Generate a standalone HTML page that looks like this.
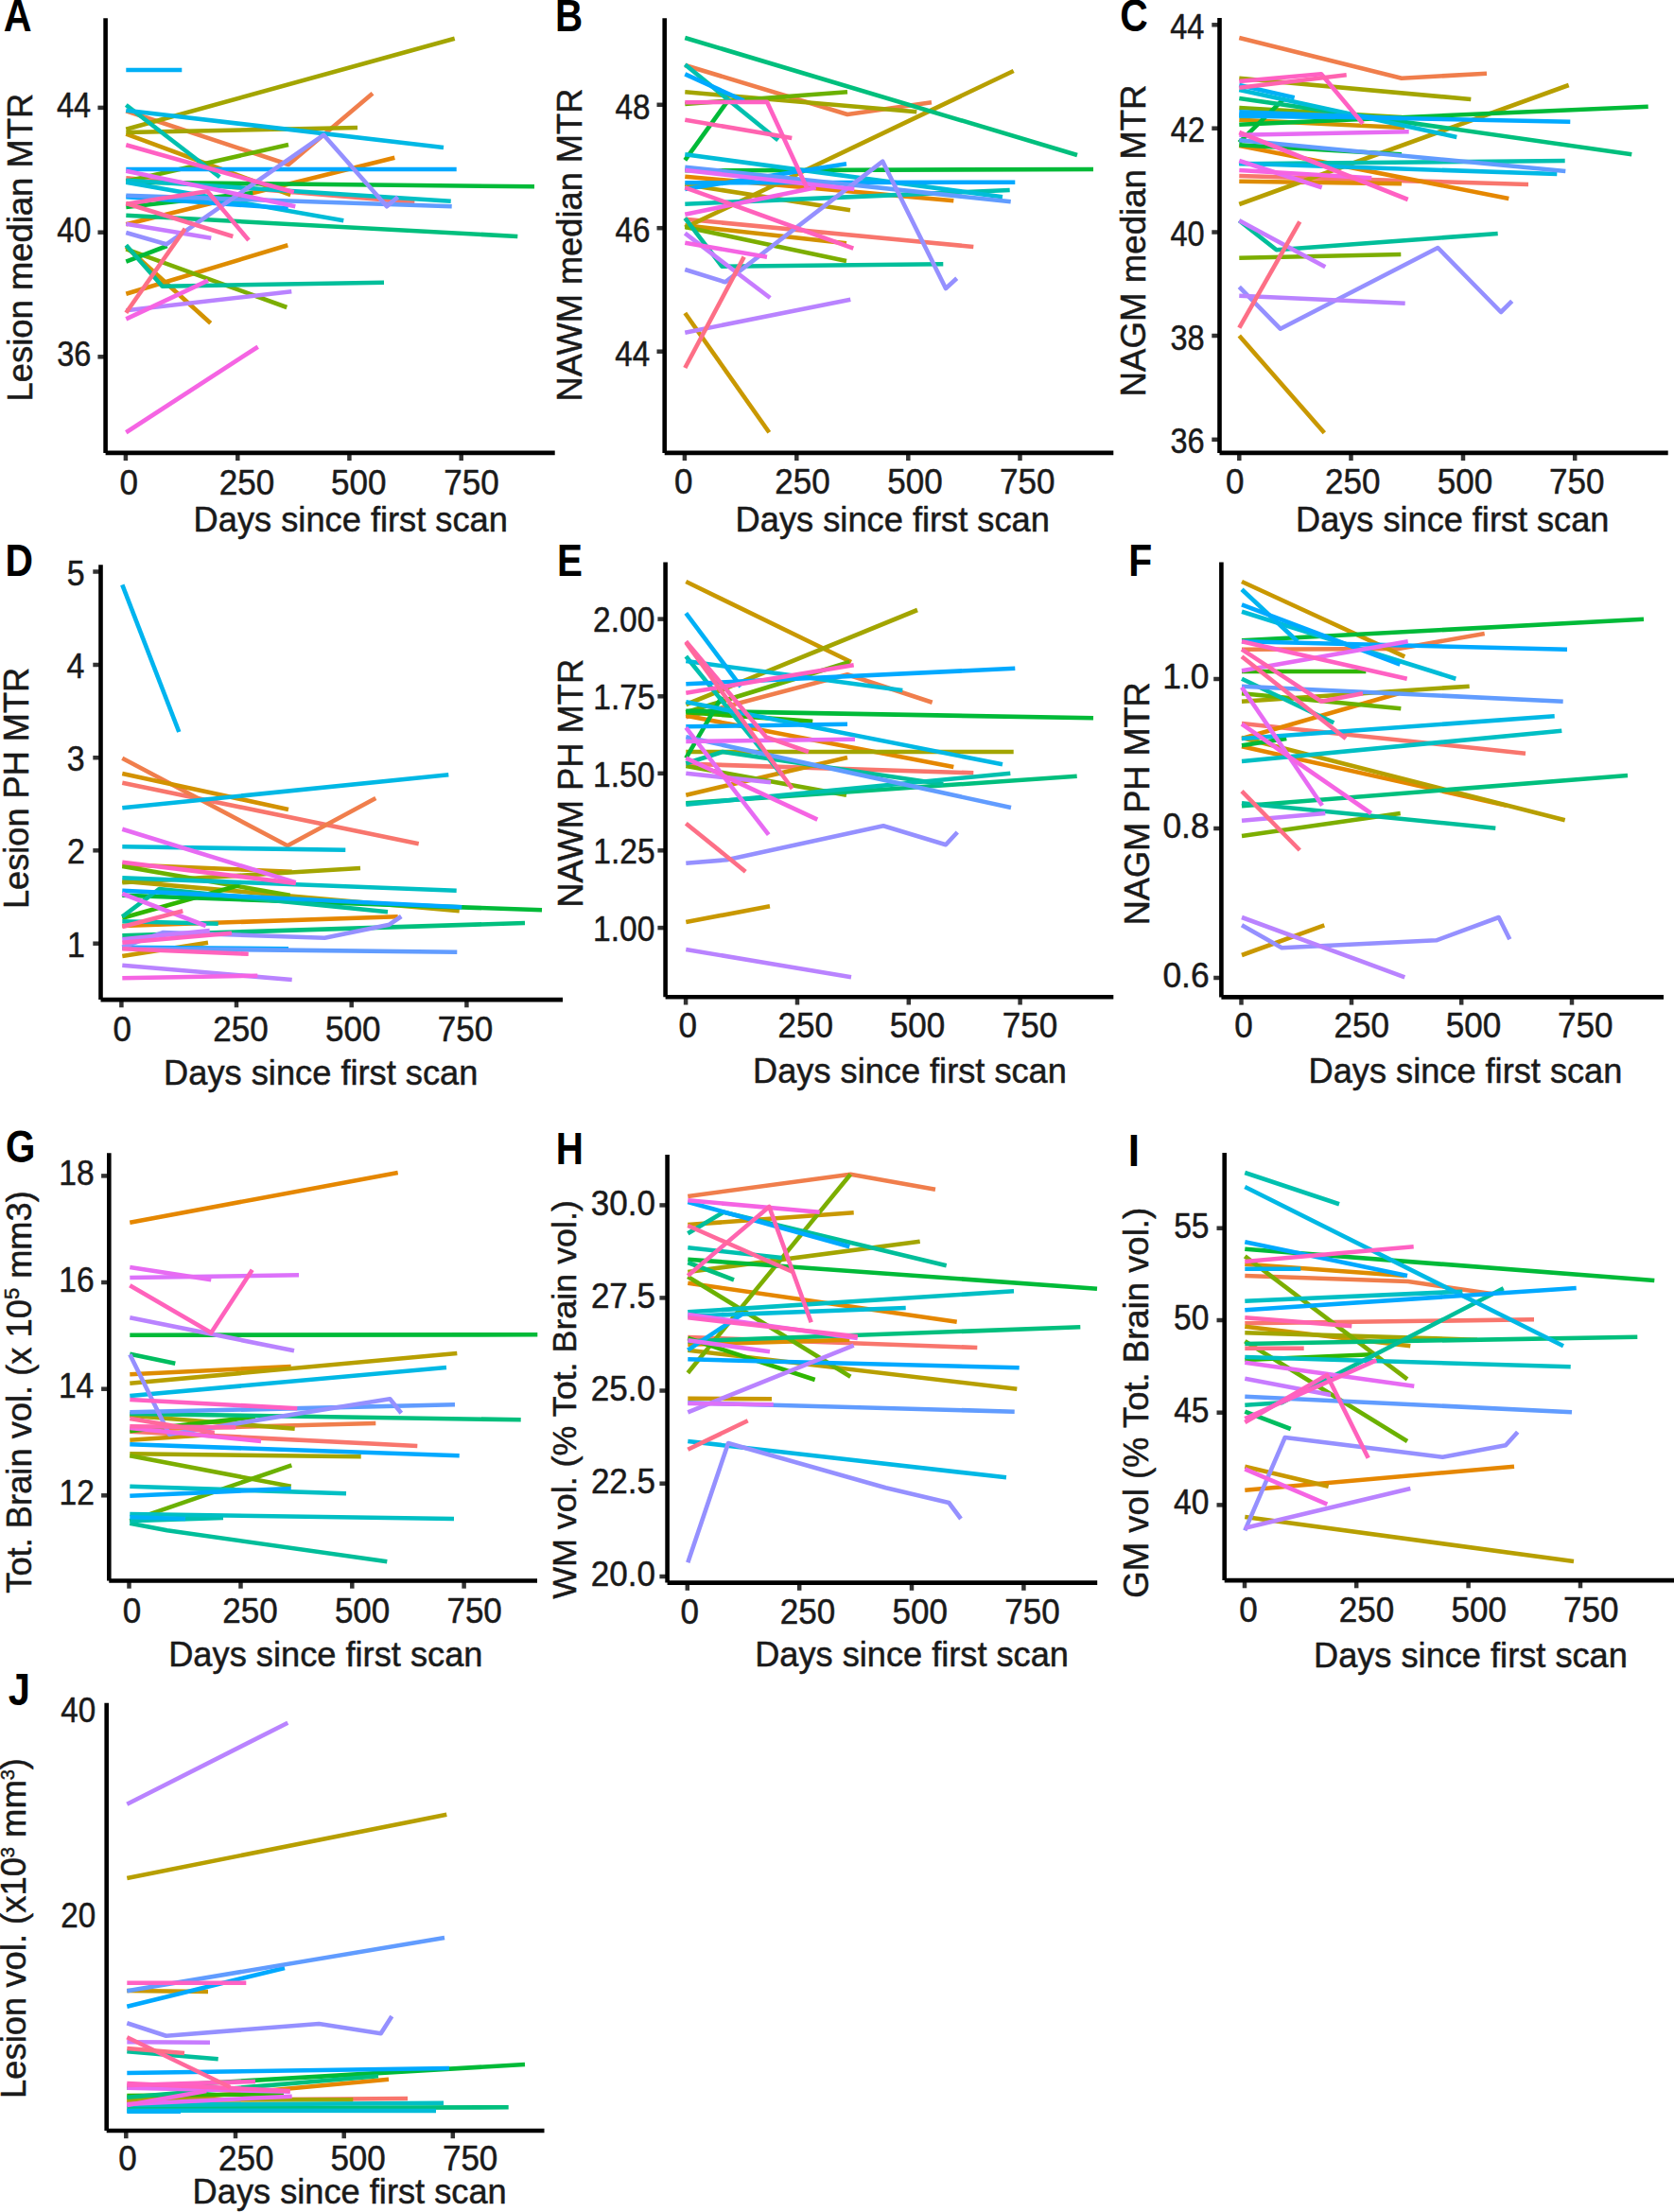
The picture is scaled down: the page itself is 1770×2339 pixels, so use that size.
<!DOCTYPE html>
<html><head><meta charset="utf-8"><title>Figure</title>
<style>html,body{margin:0;padding:0;background:#fff;overflow:hidden}svg{display:block}</style></head>
<body>
<svg width="1770" height="2339" viewBox="0 0 1770 2339">
<rect width="1770" height="2339" fill="#fff"/>
<g id="panelA">
<g fill="none" stroke-width="4.6" stroke-linejoin="round" stroke-linecap="butt">
<polyline points="133.3,188.3 438.3,214.0" stroke="#F8766D"/>
<polyline points="133.3,117.3 305.0,174.0 394.0,98.7" stroke="#F07E4C"/>
<polyline points="133.3,237.3 417.3,166.7" stroke="#E58700"/>
<polyline points="133.3,310.7 304.3,259.3" stroke="#DE8C00"/>
<polyline points="133.3,261.0 222.7,341.7" stroke="#D39200"/>
<polyline points="133.3,141.7 307.3,206.0" stroke="#C99800"/>
<polyline points="133.3,136.7 480.7,40.7" stroke="#A3A500"/>
<polyline points="133.3,140.0 378.0,135.0" stroke="#A3A500"/>
<polyline points="133.3,263.3 303.3,325.0" stroke="#7CAE00"/>
<polyline points="133.3,191.7 305.0,153.0" stroke="#6BB100"/>
<polyline points="133.3,192.7 565.0,197.3" stroke="#00BA38"/>
<polyline points="133.3,219.0 267.3,204.0" stroke="#00BA38"/>
<polyline points="133.3,276.7 176.7,260.0" stroke="#00BA38"/>
<polyline points="133.3,227.7 547.3,250.0" stroke="#00BF7D"/>
<polyline points="133.3,259.3 171.7,302.7 406.0,298.7" stroke="#00BE9A"/>
<polyline points="133.3,111.0 232.3,187.3" stroke="#00C0AF"/>
<polyline points="133.3,190.7 476.7,212.7" stroke="#00BFC4"/>
<polyline points="133.3,192.7 363.3,233.3" stroke="#00BCD8"/>
<polyline points="133.3,116.7 469.0,156.0" stroke="#00B8E5"/>
<polyline points="133.3,74.0 192.3,74.0" stroke="#00B0F6"/>
<polyline points="133.3,179.0 482.7,179.0" stroke="#00A9FF"/>
<polyline points="133.3,208.3 304.7,220.3" stroke="#00A9FF"/>
<polyline points="133.3,206.7 477.7,218.3" stroke="#619CFF"/>
<polyline points="133.3,246.0 176.0,258.3 342.3,142.7 409.0,218.3 420.7,208.3" stroke="#9590FF"/>
<polyline points="133.3,328.3 308.3,308.3" stroke="#B983FF"/>
<polyline points="133.3,236.7 223.3,251.7" stroke="#C77CFF"/>
<polyline points="133.3,180.7 312.3,218.3" stroke="#E76BF3"/>
<polyline points="133.3,337.3 220.0,296.7" stroke="#F564E3"/>
<polyline points="133.3,457.3 272.7,366.7" stroke="#F564E3"/>
<polyline points="133.3,153.3 310.7,203.3" stroke="#FF61C3"/>
<polyline points="133.3,215.7 219.3,202.3 263.0,254.0" stroke="#FF64B0"/>
<polyline points="133.3,215.0 246.3,250.0" stroke="#FF699C"/>
<polyline points="133.3,330.7 195.7,241.7" stroke="#FD6F86"/>
</g>
<g stroke="#333" stroke-width="4.5" fill="none">
<line x1="132.9" y1="478.9" x2="132.9" y2="487.1"/>
<line x1="251.3" y1="478.9" x2="251.3" y2="487.1"/>
<line x1="369.4" y1="478.9" x2="369.4" y2="487.1"/>
<line x1="487.7" y1="478.9" x2="487.7" y2="487.1"/>
<line x1="103.4" y1="113.9" x2="111.6" y2="113.9"/>
<line x1="103.4" y1="245.7" x2="111.6" y2="245.7"/>
<line x1="103.4" y1="377.3" x2="111.6" y2="377.3"/>
</g>
<path d="M111.6,19.3V478.9M111.6,478.9H586.7" fill="none" stroke="#000" stroke-width="4.6" stroke-linecap="butt"/>
<g font-family="Liberation Sans, sans-serif" fill="#1a1a1a" stroke="#1a1a1a" stroke-width="0.5" stroke-linejoin="round">
<text transform="translate(126.47,522.7) scale(0.96,1)" font-size="36.5">0</text>
<text transform="translate(231.71,522.7) scale(0.96,1)" font-size="36.5">250</text>
<text transform="translate(350.08,522.7) scale(0.96,1)" font-size="36.5">500</text>
<text transform="translate(469.31,522.7) scale(0.96,1)" font-size="36.5">750</text>
<text transform="translate(59.97,124) scale(0.89,1)" font-size="36.5">44</text>
<text transform="translate(60.14,255.8) scale(0.89,1)" font-size="36.5">40</text>
<text transform="translate(60.3,387.4) scale(0.89,1)" font-size="36.5">36</text>
<text transform="translate(204.6,562)" font-size="36.24">Days since first scan</text>
<text transform="translate(33.8,421.6) rotate(-90)" x="-2.91" font-size="36.42">Lesion median MTR</text>
<text transform="translate(3.76,32.9) scale(0.87,1)" font-size="47.5" font-weight="bold" stroke="none" fill="#000">A</text>
</g>
</g>
<g id="panelB">
<g fill="none" stroke-width="4.6" stroke-linejoin="round" stroke-linecap="butt">
<polyline points="724.3,231.7 1029.3,261.0" stroke="#F8766D"/>
<polyline points="724.3,69.0 896.0,121.0 985.0,108.3" stroke="#F07E4C"/>
<polyline points="724.3,186.7 1008.3,212.3" stroke="#E58700"/>
<polyline points="724.3,238.3 895.0,257.3" stroke="#D39200"/>
<polyline points="724.3,331.0 813.3,457.3" stroke="#C99800"/>
<polyline points="724.3,240.7 1071.7,75.0" stroke="#B79F00"/>
<polyline points="724.3,195.0 899.0,222.3" stroke="#B79F00"/>
<polyline points="724.3,97.3 969.3,118.3" stroke="#A3A500"/>
<polyline points="724.3,240.0 895.0,276.0" stroke="#7CAE00"/>
<polyline points="724.3,110.0 896.0,97.3" stroke="#6BB100"/>
<polyline points="724.3,169.3 768.3,108.3" stroke="#00BA38"/>
<polyline points="724.3,180.3 1156.0,179.0" stroke="#00BA38"/>
<polyline points="724.3,40.0 1139.0,164.0" stroke="#00BF7D"/>
<polyline points="724.3,230.7 763.3,281.7 997.3,279.3" stroke="#00BE9A"/>
<polyline points="724.3,68.3 822.7,148.3" stroke="#00C0AF"/>
<polyline points="724.3,215.7 1067.7,201.0" stroke="#00C0AF"/>
<polyline points="724.3,163.3 1060.0,208.3" stroke="#00BCD8"/>
<polyline points="724.3,78.3 786.7,106.7" stroke="#00A9FF"/>
<polyline points="724.3,200.0 895.0,173.3" stroke="#00A9FF"/>
<polyline points="724.3,193.3 1073.3,192.7" stroke="#00A9FF"/>
<polyline points="724.3,176.7 1068.7,213.3" stroke="#619CFF"/>
<polyline points="724.3,285.0 766.7,298.3 933.3,170.7 1000.0,305.0 1011.7,294.3" stroke="#9590FF"/>
<polyline points="724.3,351.7 899.3,316.7" stroke="#B983FF"/>
<polyline points="724.3,246.7 814.3,315.0" stroke="#C77CFF"/>
<polyline points="724.3,180.0 903.3,200.0" stroke="#E76BF3"/>
<polyline points="724.3,226.7 862.7,198.3" stroke="#F564E3"/>
<polyline points="724.3,256.7 811.0,271.7" stroke="#F564E3"/>
<polyline points="724.3,198.3 902.3,262.7" stroke="#FF62BC"/>
<polyline points="724.3,108.3 811.0,107.7 853.3,199.0" stroke="#FF61C3"/>
<polyline points="724.3,126.7 837.3,146.0" stroke="#FF64B0"/>
<polyline points="724.3,389.0 786.7,271.7" stroke="#FD6F86"/>
</g>
<g stroke="#333" stroke-width="4.5" fill="none">
<line x1="723.9" y1="478.9" x2="723.9" y2="487.1"/>
<line x1="842.3" y1="478.9" x2="842.3" y2="487.1"/>
<line x1="960.3" y1="478.9" x2="960.3" y2="487.1"/>
<line x1="1078.5" y1="478.9" x2="1078.5" y2="487.1"/>
<line x1="694.5" y1="110.8" x2="702.7" y2="110.8"/>
<line x1="694.5" y1="241.2" x2="702.7" y2="241.2"/>
<line x1="694.5" y1="371.7" x2="702.7" y2="371.7"/>
</g>
<path d="M702.7,19.3V478.9M702.7,478.9H1177.3" fill="none" stroke="#000" stroke-width="4.6" stroke-linecap="butt"/>
<g font-family="Liberation Sans, sans-serif" fill="#1a1a1a" stroke="#1a1a1a" stroke-width="0.5" stroke-linejoin="round">
<text transform="translate(713.07,522.3) scale(0.96,1)" font-size="36.5">0</text>
<text transform="translate(819.31,522.3) scale(0.96,1)" font-size="36.5">250</text>
<text transform="translate(938.18,522.3) scale(0.96,1)" font-size="36.5">500</text>
<text transform="translate(1057.01,522.3) scale(0.96,1)" font-size="36.5">750</text>
<text transform="translate(650.54,125.7) scale(0.91,1)" font-size="36.5">48</text>
<text transform="translate(650.54,256.1) scale(0.91,1)" font-size="36.5">46</text>
<text transform="translate(650.21,386.6) scale(0.91,1)" font-size="36.5">44</text>
<text transform="translate(777.6,562.2)" font-size="36.24">Days since first scan</text>
<text transform="translate(615.3,421.6) rotate(-90)" x="-2.9" font-size="36.24">NAWM median MTR</text>
<text transform="translate(586.97,32.9) scale(0.85,1)" font-size="47.5" font-weight="bold" stroke="none" fill="#000">B</text>
</g>
</g>
<g id="panelC">
<g fill="none" stroke-width="4.6" stroke-linejoin="round" stroke-linecap="butt">
<polyline points="1310.3,186.0 1616.0,195.0" stroke="#F8766D"/>
<polyline points="1310.3,40.0 1482.0,82.7 1572.0,77.7" stroke="#F07E4C"/>
<polyline points="1310.3,154.0 1595.3,210.0" stroke="#E58700"/>
<polyline points="1310.3,191.7 1482.0,194.3" stroke="#DE8C00"/>
<polyline points="1310.3,126.7 1485.3,135.0" stroke="#D39200"/>
<polyline points="1310.3,355.0 1400.3,457.7" stroke="#C99800"/>
<polyline points="1310.3,216.0 1658.7,90.0" stroke="#B79F00"/>
<polyline points="1310.3,82.7 1555.3,105.0" stroke="#A3A500"/>
<polyline points="1310.3,114.0 1482.0,124.0" stroke="#7CAE00"/>
<polyline points="1310.3,272.7 1481.3,269.0" stroke="#7CAE00"/>
<polyline points="1310.3,131.7 1742.7,112.7" stroke="#00BA38"/>
<polyline points="1310.3,150.7 1358.7,103.3" stroke="#00BA38"/>
<polyline points="1310.3,153.3 1482.0,163.3" stroke="#00BA38"/>
<polyline points="1310.3,104.0 1725.3,163.3" stroke="#00BF7D"/>
<polyline points="1310.3,233.3 1349.7,264.3 1583.7,247.0" stroke="#00BE9A"/>
<polyline points="1310.3,173.3 1654.7,170.0" stroke="#00C0AF"/>
<polyline points="1310.3,95.0 1540.3,145.0" stroke="#00BCD8"/>
<polyline points="1310.3,172.7 1646.3,184.0" stroke="#00B8E5"/>
<polyline points="1310.3,90.0 1368.7,103.3" stroke="#00B0F6"/>
<polyline points="1310.3,122.7 1412.0,124.0" stroke="#00B0F6"/>
<polyline points="1310.3,118.3 1482.0,125.0" stroke="#00A9FF"/>
<polyline points="1310.3,121.7 1660.3,128.7" stroke="#00A9FF"/>
<polyline points="1310.3,148.3 1655.3,181.0" stroke="#619CFF"/>
<polyline points="1310.3,303.3 1353.7,347.7 1520.3,262.0 1587.0,330.0 1598.7,318.3" stroke="#9590FF"/>
<polyline points="1310.3,312.7 1485.7,320.7" stroke="#B983FF"/>
<polyline points="1310.3,233.3 1401.3,282.3" stroke="#C77CFF"/>
<polyline points="1310.3,142.7 1489.7,139.3" stroke="#E76BF3"/>
<polyline points="1310.3,170.0 1397.7,198.3" stroke="#E76BF3"/>
<polyline points="1310.3,180.0 1450.3,188.3" stroke="#F564E3"/>
<polyline points="1310.3,140.0 1488.7,211.0" stroke="#FF61C3"/>
<polyline points="1310.3,86.0 1397.0,78.3 1441.0,130.7" stroke="#FF61C3"/>
<polyline points="1310.3,92.7 1423.7,79.3" stroke="#FF64B0"/>
<polyline points="1310.3,346.7 1374.3,234.3" stroke="#FD6F86"/>
</g>
<g stroke="#333" stroke-width="4.5" fill="none">
<line x1="1310.3" y1="478.9" x2="1310.3" y2="487.1"/>
<line x1="1428.5" y1="478.9" x2="1428.5" y2="487.1"/>
<line x1="1547" y1="478.9" x2="1547" y2="487.1"/>
<line x1="1665.2" y1="478.9" x2="1665.2" y2="487.1"/>
<line x1="1281.3" y1="26.3" x2="1289.5" y2="26.3"/>
<line x1="1281.3" y1="135.7" x2="1289.5" y2="135.7"/>
<line x1="1281.3" y1="245.5" x2="1289.5" y2="245.5"/>
<line x1="1281.3" y1="355" x2="1289.5" y2="355"/>
<line x1="1281.3" y1="464.8" x2="1289.5" y2="464.8"/>
</g>
<path d="M1289.5,19.1V478.9M1289.5,478.9H1763.7" fill="none" stroke="#000" stroke-width="4.6" stroke-linecap="butt"/>
<g font-family="Liberation Sans, sans-serif" fill="#1a1a1a" stroke="#1a1a1a" stroke-width="0.5" stroke-linejoin="round">
<text transform="translate(1295.97,522.3) scale(0.96,1)" font-size="36.5">0</text>
<text transform="translate(1401.01,522.3) scale(0.96,1)" font-size="36.5">250</text>
<text transform="translate(1519.68,522.3) scale(0.96,1)" font-size="36.5">500</text>
<text transform="translate(1638.01,522.3) scale(0.96,1)" font-size="36.5">750</text>
<text transform="translate(1237.22,40.9) scale(0.89,1)" font-size="36.5">44</text>
<text transform="translate(1237.87,150.3) scale(0.89,1)" font-size="36.5">42</text>
<text transform="translate(1237.38,260.1) scale(0.89,1)" font-size="36.5">40</text>
<text transform="translate(1237.54,369.6) scale(0.89,1)" font-size="36.5">38</text>
<text transform="translate(1237.54,479.4) scale(0.89,1)" font-size="36.5">36</text>
<text transform="translate(1370.11,562.2)" font-size="36.14">Days since first scan</text>
<text transform="translate(1210.9,416.5) rotate(-90)" x="-2.93" font-size="36.66">NAGM median MTR</text>
<text transform="translate(1184.37,32.5) scale(0.86,1)" font-size="47.5" font-weight="bold" stroke="none" fill="#000">C</text>
</g>
</g>
<g id="panelD">
<g fill="none" stroke-width="4.6" stroke-linejoin="round" stroke-linecap="butt">
<polyline points="129.3,827.7 442.7,892.3" stroke="#F8766D"/>
<polyline points="129.3,801.7 304.0,894.3 397.3,844.0" stroke="#F07E4C"/>
<polyline points="129.3,979.0 420.7,969.3" stroke="#E58700"/>
<polyline points="129.3,818.0 305.0,856.0" stroke="#D39200"/>
<polyline points="129.3,914.3 308.7,921.7" stroke="#C99800"/>
<polyline points="129.3,1011.0 220.0,996.7" stroke="#C99800"/>
<polyline points="129.3,931.7 485.7,963.3" stroke="#B79F00"/>
<polyline points="129.3,933.3 381.0,918.0" stroke="#A3A500"/>
<polyline points="129.3,916.0 306.7,946.7" stroke="#6BB100"/>
<polyline points="129.3,970.7 253.3,936.0" stroke="#2FB600"/>
<polyline points="129.3,946.7 573.0,962.3" stroke="#00BA38"/>
<polyline points="129.3,989.3 555.0,976.0" stroke="#00BF7D"/>
<polyline points="129.3,969.3 168.3,940.0 410.0,964.3" stroke="#00BE9A"/>
<polyline points="129.3,974.3 230.7,976.7" stroke="#00C0AF"/>
<polyline points="129.3,928.3 482.7,941.7" stroke="#00BFC4"/>
<polyline points="129.3,895.3 365.3,898.7" stroke="#00BCD8"/>
<polyline points="129.3,854.3 474.3,819.3" stroke="#00B8E5"/>
<polyline points="129.3,618.3 189.3,774.0" stroke="#00B4EF"/>
<polyline points="129.3,941.7 488.3,959.3" stroke="#00A9FF"/>
<polyline points="129.3,1001.7 305.0,1003.3" stroke="#00A9FF"/>
<polyline points="129.3,1002.7 483.3,1006.7" stroke="#619CFF"/>
<polyline points="129.3,1001.7 172.7,986.0 343.3,991.7 411.7,977.7 424.3,969.0" stroke="#9590FF"/>
<polyline points="129.3,1020.7 308.7,1036.0" stroke="#B983FF"/>
<polyline points="129.3,993.3 221.7,984.0" stroke="#C77CFF"/>
<polyline points="129.3,876.7 312.7,933.3" stroke="#E76BF3"/>
<polyline points="129.3,945.0 217.7,979.0" stroke="#E76BF3"/>
<polyline points="129.3,1034.3 272.3,1031.7" stroke="#F564E3"/>
<polyline points="129.3,1003.3 262.7,1008.7" stroke="#FF62BC"/>
<polyline points="129.3,911.7 312.7,934.0" stroke="#FF61C3"/>
<polyline points="129.3,996.7 245.0,986.7" stroke="#FF61C3"/>
<polyline points="129.3,980.0 193.3,963.3" stroke="#FF699C"/>
</g>
<g stroke="#333" stroke-width="4.5" fill="none">
<line x1="128.4" y1="1057.1" x2="128.4" y2="1065.3"/>
<line x1="250" y1="1057.1" x2="250" y2="1065.3"/>
<line x1="371.7" y1="1057.1" x2="371.7" y2="1065.3"/>
<line x1="493.4" y1="1057.1" x2="493.4" y2="1065.3"/>
<line x1="98.3" y1="604.5" x2="106.5" y2="604.5"/>
<line x1="98.3" y1="703" x2="106.5" y2="703"/>
<line x1="98.3" y1="801.2" x2="106.5" y2="801.2"/>
<line x1="98.3" y1="899.3" x2="106.5" y2="899.3"/>
<line x1="98.3" y1="997.7" x2="106.5" y2="997.7"/>
</g>
<path d="M106.5,597.3V1057.1M106.5,1057.1H595" fill="none" stroke="#000" stroke-width="4.6" stroke-linecap="butt"/>
<g font-family="Liberation Sans, sans-serif" fill="#1a1a1a" stroke="#1a1a1a" stroke-width="0.5" stroke-linejoin="round">
<text transform="translate(119.47,1100.8) scale(0.96,1)" font-size="36.5">0</text>
<text transform="translate(225.21,1100.8) scale(0.96,1)" font-size="36.5">250</text>
<text transform="translate(343.98,1100.8) scale(0.96,1)" font-size="36.5">500</text>
<text transform="translate(462.71,1100.8) scale(0.96,1)" font-size="36.5">750</text>
<text transform="translate(70.72,618.6) scale(0.93,1)" font-size="36.5">5</text>
<text transform="translate(70.38,717.1) scale(0.93,1)" font-size="36.5">4</text>
<text transform="translate(70.72,815.3) scale(0.93,1)" font-size="36.5">3</text>
<text transform="translate(71.06,913.4) scale(0.93,1)" font-size="36.5">2</text>
<text transform="translate(70.89,1011.8) scale(0.93,1)" font-size="36.5">1</text>
<text transform="translate(173.1,1146.5)" font-size="36.24">Days since first scan</text>
<text transform="translate(30.3,958.1) rotate(-90)" x="-2.89" font-size="36.15">Lesion PH MTR</text>
<text transform="translate(5.45,608.9) scale(0.86,1)" font-size="47.5" font-weight="bold" stroke="none" fill="#000">D</text>
</g>
</g>
<g id="panelE">
<g fill="none" stroke-width="4.6" stroke-linejoin="round" stroke-linecap="butt">
<polyline points="725.3,807.7 1029.3,817.3" stroke="#F8766D"/>
<polyline points="725.3,758.3 896.0,713.3 985.7,742.7" stroke="#F07E4C"/>
<polyline points="725.3,756.7 1008.3,811.0" stroke="#E58700"/>
<polyline points="725.3,840.7 896.0,801.0" stroke="#D39200"/>
<polyline points="725.3,615.0 900.0,700.0" stroke="#C99800"/>
<polyline points="725.3,975.0 814.0,958.3" stroke="#C99800"/>
<polyline points="725.3,745.0 970.0,645.0" stroke="#A3A500"/>
<polyline points="725.3,795.0 1071.7,795.0" stroke="#A3A500"/>
<polyline points="725.3,810.0 895.0,840.7" stroke="#7CAE00"/>
<polyline points="725.3,753.3 898.3,700.0" stroke="#6BB100"/>
<polyline points="725.3,753.3 859.3,762.7" stroke="#2FB600"/>
<polyline points="725.3,751.7 1156.0,759.3" stroke="#00BA38"/>
<polyline points="725.3,801.7 763.3,736.7" stroke="#00BA38"/>
<polyline points="725.3,849.3 1138.7,820.7" stroke="#00BF7D"/>
<polyline points="725.3,807.3 764.0,795.0 997.3,829.3" stroke="#00BE9A"/>
<polyline points="725.3,694.0 826.7,819.3" stroke="#00C0AF"/>
<polyline points="725.3,850.7 1068.3,817.7" stroke="#00C0AF"/>
<polyline points="725.3,699.0 954.3,730.0" stroke="#00BCD8"/>
<polyline points="725.3,742.3 1060.0,808.3" stroke="#00B8E5"/>
<polyline points="725.3,648.3 783.3,726.0" stroke="#00B0F6"/>
<polyline points="725.3,723.3 1073.3,706.7" stroke="#00A9FF"/>
<polyline points="725.3,768.3 896.0,765.7" stroke="#00A9FF"/>
<polyline points="725.3,779.3 1069.0,854.0" stroke="#619CFF"/>
<polyline points="725.3,912.7 768.3,909.3 934.0,873.3 1000.0,893.3 1012.3,880.0" stroke="#9590FF"/>
<polyline points="725.3,1004.0 900.0,1033.3" stroke="#B983FF"/>
<polyline points="725.3,817.7 815.0,827.3" stroke="#C77CFF"/>
<polyline points="725.3,784.0 904.0,781.7" stroke="#E76BF3"/>
<polyline points="725.3,769.3 812.7,882.7" stroke="#E76BF3"/>
<polyline points="725.3,801.7 864.3,866.7" stroke="#F564E3"/>
<polyline points="725.3,732.7 902.7,703.3" stroke="#FF61C3"/>
<polyline points="725.3,678.3 810.0,779.3 855.0,795.0" stroke="#FF64B0"/>
<polyline points="725.3,679.3 837.7,834.0" stroke="#FF699C"/>
<polyline points="725.3,870.7 788.3,921.7" stroke="#FD6F86"/>
</g>
<g stroke="#333" stroke-width="4.5" fill="none">
<line x1="725.1" y1="1054.3" x2="725.1" y2="1062.5"/>
<line x1="843" y1="1054.3" x2="843" y2="1062.5"/>
<line x1="960.8" y1="1054.3" x2="960.8" y2="1062.5"/>
<line x1="1078.6" y1="1054.3" x2="1078.6" y2="1062.5"/>
<line x1="695.4" y1="654.6" x2="703.6" y2="654.6"/>
<line x1="695.4" y1="736.3" x2="703.6" y2="736.3"/>
<line x1="695.4" y1="817.8" x2="703.6" y2="817.8"/>
<line x1="695.4" y1="899.3" x2="703.6" y2="899.3"/>
<line x1="695.4" y1="981.1" x2="703.6" y2="981.1"/>
</g>
<path d="M703.6,594.5V1054.3M703.6,1054.3H1177.3" fill="none" stroke="#000" stroke-width="4.6" stroke-linecap="butt"/>
<g font-family="Liberation Sans, sans-serif" fill="#1a1a1a" stroke="#1a1a1a" stroke-width="0.5" stroke-linejoin="round">
<text transform="translate(717.47,1096.6) scale(0.96,1)" font-size="36.5">0</text>
<text transform="translate(822.51,1096.6) scale(0.96,1)" font-size="36.5">250</text>
<text transform="translate(940.68,1096.6) scale(0.96,1)" font-size="36.5">500</text>
<text transform="translate(1059.71,1096.6) scale(0.96,1)" font-size="36.5">750</text>
<text transform="translate(627.05,668.4) scale(0.92,1)" font-size="36.5">2.00</text>
<text transform="translate(627.22,750.1) scale(0.92,1)" font-size="36.5">1.75</text>
<text transform="translate(627.05,831.6) scale(0.92,1)" font-size="36.5">1.50</text>
<text transform="translate(627.22,913.1) scale(0.92,1)" font-size="36.5">1.25</text>
<text transform="translate(627.05,994.9) scale(0.92,1)" font-size="36.5">1.00</text>
<text transform="translate(796.11,1145)" font-size="36.18">Days since first scan</text>
<text transform="translate(616.3,956.8) rotate(-90)" x="-2.91" font-size="36.33">NAWM PH MTR</text>
<text transform="translate(589.09,608.8) scale(0.85,1)" font-size="47.5" font-weight="bold" stroke="none" fill="#000">E</text>
</g>
</g>
<g id="panelF">
<g fill="none" stroke-width="4.6" stroke-linejoin="round" stroke-linecap="butt">
<polyline points="1313.0,765.0 1613.0,796.7" stroke="#F8766D"/>
<polyline points="1313.0,686.7 1478.7,686.0 1569.7,670.0" stroke="#F07E4C"/>
<polyline points="1313.0,781.0 1478.7,733.3" stroke="#E58700"/>
<polyline points="1313.0,789.3 1593.0,851.7" stroke="#E58700"/>
<polyline points="1313.0,615.0 1485.3,694.3" stroke="#C99800"/>
<polyline points="1313.0,1010.0 1400.3,978.3" stroke="#C99800"/>
<polyline points="1313.0,780.0 1654.7,867.3" stroke="#B79F00"/>
<polyline points="1313.0,741.7 1553.7,725.7" stroke="#A3A500"/>
<polyline points="1313.0,884.0 1480.7,860.0" stroke="#7CAE00"/>
<polyline points="1313.0,733.3 1481.3,749.3" stroke="#6BB100"/>
<polyline points="1313.0,710.0 1444.3,710.0" stroke="#2FB600"/>
<polyline points="1313.0,677.3 1738.0,654.7" stroke="#00BA38"/>
<polyline points="1313.0,788.3 1360.3,781.0" stroke="#00BA38"/>
<polyline points="1313.0,852.3 1721.0,820.0" stroke="#00BF7D"/>
<polyline points="1313.0,849.3 1581.3,875.7" stroke="#00BE9A"/>
<polyline points="1313.0,717.7 1410.3,764.3" stroke="#00C0AF"/>
<polyline points="1313.0,805.0 1651.3,772.7" stroke="#00BFC4"/>
<polyline points="1313.0,646.7 1539.3,717.7" stroke="#00BCD8"/>
<polyline points="1313.0,781.0 1643.7,757.3" stroke="#00B8E5"/>
<polyline points="1313.0,623.3 1372.0,678.3" stroke="#00B4EF"/>
<polyline points="1313.0,639.3 1480.3,702.7" stroke="#00A9FF"/>
<polyline points="1313.0,678.3 1657.0,686.7" stroke="#00A9FF"/>
<polyline points="1313.0,725.7 1652.7,741.7" stroke="#619CFF"/>
<polyline points="1313.0,978.3 1355.3,1002.3 1518.7,994.3 1584.7,970.0 1596.3,993.3" stroke="#9590FF"/>
<polyline points="1313.0,970.0 1485.3,1033.3" stroke="#B983FF"/>
<polyline points="1313.0,867.7 1401.3,860.0" stroke="#C77CFF"/>
<polyline points="1313.0,709.3 1488.7,678.3" stroke="#E76BF3"/>
<polyline points="1313.0,726.7 1398.0,851.7" stroke="#E76BF3"/>
<polyline points="1313.0,765.7 1449.7,860.0" stroke="#F564E3"/>
<polyline points="1313.0,678.3 1487.7,717.7" stroke="#FF61C3"/>
<polyline points="1313.0,686.7 1397.0,741.7 1441.0,733.3" stroke="#FF64B0"/>
<polyline points="1313.0,694.3 1423.0,781.0" stroke="#FF699C"/>
<polyline points="1313.0,836.7 1374.3,899.0" stroke="#FD6F86"/>
</g>
<g stroke="#333" stroke-width="4.5" fill="none">
<line x1="1312.5" y1="1054.4" x2="1312.5" y2="1062.6"/>
<line x1="1429" y1="1054.4" x2="1429" y2="1062.6"/>
<line x1="1545.2" y1="1054.4" x2="1545.2" y2="1062.6"/>
<line x1="1662" y1="1054.4" x2="1662" y2="1062.6"/>
<line x1="1283.2" y1="718" x2="1291.4" y2="718"/>
<line x1="1283.2" y1="876" x2="1291.4" y2="876"/>
<line x1="1283.2" y1="1034" x2="1291.4" y2="1034"/>
</g>
<path d="M1291.4,594.5V1054.4M1291.4,1054.4H1759" fill="none" stroke="#000" stroke-width="4.6" stroke-linecap="butt"/>
<g font-family="Liberation Sans, sans-serif" fill="#1a1a1a" stroke="#1a1a1a" stroke-width="0.5" stroke-linejoin="round">
<text transform="translate(1305.27,1096.6) scale(0.96,1)" font-size="36.5">0</text>
<text transform="translate(1410.51,1096.6) scale(0.96,1)" font-size="36.5">250</text>
<text transform="translate(1528.78,1096.6) scale(0.96,1)" font-size="36.5">500</text>
<text transform="translate(1647.01,1096.6) scale(0.96,1)" font-size="36.5">750</text>
<text transform="translate(1229.23,727.6) scale(0.97,1)" font-size="36.5">1.0</text>
<text transform="translate(1229.4,885.6) scale(0.97,1)" font-size="36.5">0.8</text>
<text transform="translate(1229.4,1043.6) scale(0.97,1)" font-size="36.5">0.6</text>
<text transform="translate(1383.61,1145)" font-size="36.18">Days since first scan</text>
<text transform="translate(1215.1,975.4) rotate(-90)" x="-2.89" font-size="36.15">NAGM PH MTR</text>
<text transform="translate(1193.34,608.8) scale(0.86,1)" font-size="47.5" font-weight="bold" stroke="none" fill="#000">F</text>
</g>
</g>
<g id="panelG">
<g fill="none" stroke-width="4.6" stroke-linejoin="round" stroke-linecap="butt">
<polyline points="137.3,1513.7 441.3,1529.0" stroke="#F8766D"/>
<polyline points="137.3,1511.7 397.3,1505.0" stroke="#F07E4C"/>
<polyline points="137.3,1292.7 420.7,1240.0" stroke="#E58700"/>
<polyline points="137.3,1453.3 307.7,1445.0" stroke="#DE8C00"/>
<polyline points="137.3,1522.7 226.7,1516.7" stroke="#C99800"/>
<polyline points="137.3,1462.7 483.3,1431.0" stroke="#B79F00"/>
<polyline points="137.3,1496.7 311.7,1510.7" stroke="#A3A500"/>
<polyline points="137.3,1537.3 381.7,1540.3" stroke="#A3A500"/>
<polyline points="137.3,1539.3 307.7,1571.7" stroke="#7CAE00"/>
<polyline points="137.3,1608.3 308.3,1549.3" stroke="#6BB100"/>
<polyline points="137.3,1513.3 270.0,1498.3" stroke="#2FB600"/>
<polyline points="137.3,1411.7 568.3,1411.3" stroke="#00BA38"/>
<polyline points="137.3,1431.7 185.3,1441.7" stroke="#00BD5F"/>
<polyline points="137.3,1495.0 550.7,1501.3" stroke="#00BF7D"/>
<polyline points="137.3,1610.7 176.7,1618.3 409.3,1651.3" stroke="#00BE9A"/>
<polyline points="137.3,1608.3 236.0,1605.0" stroke="#00C0AF"/>
<polyline points="137.3,1571.7 366.0,1579.3" stroke="#00BFC4"/>
<polyline points="137.3,1601.0 480.0,1606.0" stroke="#00BFC4"/>
<polyline points="137.3,1476.0 472.0,1446.0" stroke="#00B8E5"/>
<polyline points="137.3,1604.3 196.0,1606.0" stroke="#00B0F6"/>
<polyline points="137.3,1527.3 485.7,1539.3" stroke="#00A9FF"/>
<polyline points="137.3,1581.7 307.7,1574.0" stroke="#00A9FF"/>
<polyline points="137.3,1493.3 481.0,1485.3" stroke="#619CFF"/>
<polyline points="137.3,1432.3 179.0,1516.7 412.3,1479.3 424.3,1494.3" stroke="#9590FF"/>
<polyline points="137.3,1393.3 311.0,1428.3" stroke="#B983FF"/>
<polyline points="137.3,1351.0 316.0,1348.3" stroke="#DC71FA"/>
<polyline points="137.3,1340.0 223.3,1353.3" stroke="#E76BF3"/>
<polyline points="137.3,1510.0 276.0,1524.0" stroke="#F564E3"/>
<polyline points="137.3,1359.3 223.3,1409.3 266.7,1342.7" stroke="#FF62BC"/>
<polyline points="137.3,1480.0 314.3,1489.3" stroke="#FF61C3"/>
<polyline points="137.3,1508.3 249.3,1509.3" stroke="#FF64B0"/>
<polyline points="137.3,1500.0 226.7,1515.0" stroke="#FF699C"/>
</g>
<g stroke="#333" stroke-width="4.5" fill="none">
<line x1="136.5" y1="1671.5" x2="136.5" y2="1679.7"/>
<line x1="254.5" y1="1671.5" x2="254.5" y2="1679.7"/>
<line x1="372.3" y1="1671.5" x2="372.3" y2="1679.7"/>
<line x1="490.6" y1="1671.5" x2="490.6" y2="1679.7"/>
<line x1="107.1" y1="1243.4" x2="115.3" y2="1243.4"/>
<line x1="107.1" y1="1356" x2="115.3" y2="1356"/>
<line x1="107.1" y1="1468.7" x2="115.3" y2="1468.7"/>
<line x1="107.1" y1="1581.3" x2="115.3" y2="1581.3"/>
</g>
<path d="M115.3,1219.2V1671.5M115.3,1671.5H568" fill="none" stroke="#000" stroke-width="4.6" stroke-linecap="butt"/>
<g font-family="Liberation Sans, sans-serif" fill="#1a1a1a" stroke="#1a1a1a" stroke-width="0.5" stroke-linejoin="round">
<text transform="translate(129.77,1715.8) scale(0.96,1)" font-size="36.5">0</text>
<text transform="translate(235.21,1715.8) scale(0.96,1)" font-size="36.5">250</text>
<text transform="translate(353.88,1715.8) scale(0.96,1)" font-size="36.5">500</text>
<text transform="translate(472.41,1715.8) scale(0.96,1)" font-size="36.5">750</text>
<text transform="translate(62.27,1253) scale(0.92,1)" font-size="36.5">18</text>
<text transform="translate(62.27,1365.6) scale(0.92,1)" font-size="36.5">16</text>
<text transform="translate(61.93,1478.3) scale(0.92,1)" font-size="36.5">14</text>
<text transform="translate(62.61,1590.9) scale(0.92,1)" font-size="36.5">12</text>
<text transform="translate(178.2,1762.4)" font-size="36.24">Days since first scan</text>
<text transform="translate(32.9,1684) rotate(-90)" x="-0.73" font-size="36.31">Tot. Brain vol. (x 10<tspan font-size="21.78" dy="-13.07">5</tspan><tspan dy="13.07"> mm3)</tspan></text>
<text transform="translate(5.88,1228.8) scale(0.85,1)" font-size="47.5" font-weight="bold" stroke="none" fill="#000">G</text>
</g>
</g>
<g id="panelH">
<g fill="none" stroke-width="4.6" stroke-linejoin="round" stroke-linecap="butt">
<polyline points="727.3,1414.0 1033.3,1425.0" stroke="#F8766D"/>
<polyline points="727.3,1265.0 899.3,1241.7 989.0,1257.7" stroke="#F07E4C"/>
<polyline points="727.3,1356.7 1011.7,1397.7" stroke="#E58700"/>
<polyline points="727.3,1421.7 898.3,1416.7" stroke="#DE8C00"/>
<polyline points="727.3,1295.0 902.7,1282.3" stroke="#C99800"/>
<polyline points="727.3,1478.7 816.0,1479.3" stroke="#C99800"/>
<polyline points="727.3,1427.7 1075.3,1468.7" stroke="#B79F00"/>
<polyline points="727.3,1345.0 972.7,1312.7" stroke="#A3A500"/>
<polyline points="727.3,1451.7 899.3,1241.7" stroke="#7CAE00"/>
<polyline points="727.3,1350.0 899.3,1455.7" stroke="#6BB100"/>
<polyline points="727.3,1415.0 861.7,1459.0" stroke="#2FB600"/>
<polyline points="727.3,1331.7 1160.0,1362.7" stroke="#00BA38"/>
<polyline points="727.3,1335.0 776.0,1353.3" stroke="#00BF7D"/>
<polyline points="727.3,1418.3 1142.3,1403.3" stroke="#00BF7D"/>
<polyline points="727.3,1304.3 765.0,1281.7 1000.7,1338.3" stroke="#00BE9A"/>
<polyline points="727.3,1319.3 826.7,1330.0" stroke="#00C0AF"/>
<polyline points="727.3,1387.3 1072.0,1365.3" stroke="#00BFC4"/>
<polyline points="727.3,1391.7 957.7,1383.0" stroke="#00BCD8"/>
<polyline points="727.3,1524.0 1064.0,1562.3" stroke="#00B8E5"/>
<polyline points="727.3,1427.7 786.7,1388.3" stroke="#00B0F6"/>
<polyline points="727.3,1271.0 898.3,1318.3" stroke="#00A9FF"/>
<polyline points="727.3,1437.3 1077.7,1446.3" stroke="#00A9FF"/>
<polyline points="727.3,1483.3 1072.7,1492.7" stroke="#619CFF"/>
<polyline points="727.3,1652.3 770.0,1526.0 936.7,1573.3 1003.3,1589.0 1016.0,1606.0" stroke="#9590FF"/>
<polyline points="727.3,1493.3 902.7,1422.7" stroke="#B983FF"/>
<polyline points="727.3,1484.0 817.7,1485.3" stroke="#DC71FA"/>
<polyline points="727.3,1390.0 906.7,1415.0" stroke="#E76BF3"/>
<polyline points="727.3,1417.3 814.0,1429.3" stroke="#E76BF3"/>
<polyline points="727.3,1269.3 866.7,1281.7" stroke="#F564E3"/>
<polyline points="727.3,1393.3 906.7,1413.3" stroke="#FF61C3"/>
<polyline points="727.3,1349.0 813.3,1276.0 857.7,1398.3" stroke="#FF64B0"/>
<polyline points="727.3,1296.0 838.3,1345.0" stroke="#FF699C"/>
<polyline points="727.3,1532.7 790.7,1502.3" stroke="#FD6F86"/>
</g>
<g stroke="#333" stroke-width="4.5" fill="none">
<line x1="726.8" y1="1673.6" x2="726.8" y2="1681.8"/>
<line x1="845.2" y1="1673.6" x2="845.2" y2="1681.8"/>
<line x1="964" y1="1673.6" x2="964" y2="1681.8"/>
<line x1="1082.4" y1="1673.6" x2="1082.4" y2="1681.8"/>
<line x1="697.4" y1="1274.4" x2="705.6" y2="1274.4"/>
<line x1="697.4" y1="1372.4" x2="705.6" y2="1372.4"/>
<line x1="697.4" y1="1470.5" x2="705.6" y2="1470.5"/>
<line x1="697.4" y1="1568.7" x2="705.6" y2="1568.7"/>
<line x1="697.4" y1="1667.0" x2="705.6" y2="1667.0"/>
</g>
<path d="M705.6,1221.1V1673.6M705.6,1673.6H1160.2" fill="none" stroke="#000" stroke-width="4.6" stroke-linecap="butt"/>
<g font-family="Liberation Sans, sans-serif" fill="#1a1a1a" stroke="#1a1a1a" stroke-width="0.5" stroke-linejoin="round">
<text transform="translate(719.47,1717.3) scale(0.96,1)" font-size="36.5">0</text>
<text transform="translate(824.81,1717.3) scale(0.96,1)" font-size="36.5">250</text>
<text transform="translate(943.58,1717.3) scale(0.96,1)" font-size="36.5">500</text>
<text transform="translate(1062.31,1717.3) scale(0.96,1)" font-size="36.5">750</text>
<text transform="translate(624.71,1284.5) scale(0.96,1)" font-size="36.5">30.0</text>
<text transform="translate(624.89,1382.5) scale(0.96,1)" font-size="36.5">27.5</text>
<text transform="translate(624.71,1480.6) scale(0.96,1)" font-size="36.5">25.0</text>
<text transform="translate(624.89,1578.8) scale(0.96,1)" font-size="36.5">22.5</text>
<text transform="translate(624.71,1677.1) scale(0.96,1)" font-size="36.5">20.0</text>
<text transform="translate(798.21,1762.4)" font-size="36.18">Days since first scan</text>
<text transform="translate(608.9,1690.7) rotate(-90)" x="-0.18" font-size="35.87">WM vol. (% Tot. Brain vol.)</text>
<text transform="translate(587.87,1231) scale(0.85,1)" font-size="47.5" font-weight="bold" stroke="none" fill="#000">H</text>
</g>
</g>
<g id="panelI">
<g fill="none" stroke-width="4.6" stroke-linejoin="round" stroke-linecap="butt">
<polyline points="1316.3,1399.3 1622.0,1395.3" stroke="#F8766D"/>
<polyline points="1316.3,1349.0 1488.7,1355.0 1578.7,1368.3" stroke="#F07E4C"/>
<polyline points="1316.3,1575.7 1601.0,1550.7" stroke="#E58700"/>
<polyline points="1316.3,1336.7 1485.3,1349.0" stroke="#DE8C00"/>
<polyline points="1316.3,1402.7 1491.3,1423.3" stroke="#C99800"/>
<polyline points="1316.3,1550.7 1404.7,1571.7" stroke="#C99800"/>
<polyline points="1316.3,1604.0 1664.0,1651.0" stroke="#B79F00"/>
<polyline points="1316.3,1409.3 1562.0,1416.7" stroke="#A3A500"/>
<polyline points="1316.3,1328.3 1488.0,1458.3" stroke="#7CAE00"/>
<polyline points="1316.3,1418.3 1488.0,1524.0" stroke="#6BB100"/>
<polyline points="1316.3,1438.0 1450.3,1432.3" stroke="#2FB600"/>
<polyline points="1316.3,1320.7 1749.3,1354.0" stroke="#00BA38"/>
<polyline points="1316.3,1492.7 1364.7,1511.0" stroke="#00BD5F"/>
<polyline points="1316.3,1421.0 1731.3,1413.7" stroke="#00BF7D"/>
<polyline points="1316.3,1485.7 1355.3,1483.3 1589.7,1362.3" stroke="#00BE9A"/>
<polyline points="1316.3,1240.0 1416.0,1273.3" stroke="#00C0AF"/>
<polyline points="1316.3,1375.7 1546.3,1365.7" stroke="#00BFC4"/>
<polyline points="1316.3,1435.0 1660.7,1445.3" stroke="#00BFC4"/>
<polyline points="1316.3,1255.0 1653.0,1423.3" stroke="#00B8E5"/>
<polyline points="1316.3,1341.7 1375.3,1341.7" stroke="#00B0F6"/>
<polyline points="1316.3,1313.3 1488.0,1349.0" stroke="#00A9FF"/>
<polyline points="1316.3,1385.3 1666.7,1362.0" stroke="#00A9FF"/>
<polyline points="1316.3,1476.7 1662.0,1493.3" stroke="#619CFF"/>
<polyline points="1316.3,1618.3 1358.7,1520.0 1525.3,1540.7 1592.0,1528.3 1604.7,1514.3" stroke="#9590FF"/>
<polyline points="1316.3,1615.7 1491.3,1574.0" stroke="#B983FF"/>
<polyline points="1316.3,1457.7 1407.0,1475.0" stroke="#C77CFF"/>
<polyline points="1316.3,1440.7 1495.3,1465.7" stroke="#E76BF3"/>
<polyline points="1316.3,1553.3 1403.3,1590.7" stroke="#F564E3"/>
<polyline points="1316.3,1504.0 1403.0,1454.0 1446.7,1541.7" stroke="#FF62BC"/>
<polyline points="1316.3,1334.0 1494.7,1318.3" stroke="#FF61C3"/>
<polyline points="1316.3,1500.0 1455.3,1438.3" stroke="#FF61C3"/>
<polyline points="1316.3,1393.3 1429.3,1402.3" stroke="#FF64B0"/>
<polyline points="1316.3,1425.7 1378.7,1425.7" stroke="#FD6F86"/>
</g>
<g stroke="#333" stroke-width="4.5" fill="none">
<line x1="1316" y1="1671.1" x2="1316" y2="1679.3"/>
<line x1="1434.2" y1="1671.1" x2="1434.2" y2="1679.3"/>
<line x1="1552.6" y1="1671.1" x2="1552.6" y2="1679.3"/>
<line x1="1671" y1="1671.1" x2="1671" y2="1679.3"/>
<line x1="1286.5" y1="1298.7" x2="1294.7" y2="1298.7"/>
<line x1="1286.5" y1="1396" x2="1294.7" y2="1396"/>
<line x1="1286.5" y1="1493.7" x2="1294.7" y2="1493.7"/>
<line x1="1286.5" y1="1591.4" x2="1294.7" y2="1591.4"/>
</g>
<path d="M1294.7,1219.0V1671.1M1294.7,1671.1H1772" fill="none" stroke="#000" stroke-width="4.6" stroke-linecap="butt"/>
<g font-family="Liberation Sans, sans-serif" fill="#1a1a1a" stroke="#1a1a1a" stroke-width="0.5" stroke-linejoin="round">
<text transform="translate(1310.37,1714.6) scale(0.96,1)" font-size="36.5">0</text>
<text transform="translate(1415.81,1714.6) scale(0.96,1)" font-size="36.5">250</text>
<text transform="translate(1534.58,1714.6) scale(0.96,1)" font-size="36.5">500</text>
<text transform="translate(1653.11,1714.6) scale(0.96,1)" font-size="36.5">750</text>
<text transform="translate(1241.17,1308.6) scale(0.92,1)" font-size="36.5">55</text>
<text transform="translate(1241,1405.9) scale(0.92,1)" font-size="36.5">50</text>
<text transform="translate(1241.17,1503.6) scale(0.92,1)" font-size="36.5">45</text>
<text transform="translate(1241,1601.3) scale(0.92,1)" font-size="36.5">40</text>
<text transform="translate(1389,1763)" font-size="36.2">Days since first scan</text>
<text transform="translate(1213.7,1687.9) rotate(-90)" x="-1.82" font-size="36.47">GM vol (% Tot. Brain vol.)</text>
<text transform="translate(1192.73,1232.8) scale(0.93,1)" font-size="47.5" font-weight="bold" stroke="none" fill="#000">I</text>
</g>
</g>
<g id="panelJ">
<g fill="none" stroke-width="4.6" stroke-linejoin="round" stroke-linecap="butt">
<polyline points="134.3,2221.0 431.0,2219.0" stroke="#F8766D"/>
<polyline points="134.3,2224.3 411.0,2198.7" stroke="#E58700"/>
<polyline points="134.3,2105.0 220.0,2106.0" stroke="#C99800"/>
<polyline points="134.3,1986.0 472.3,1918.7" stroke="#B79F00"/>
<polyline points="134.3,2220.3 373.3,2220.3" stroke="#A3A500"/>
<polyline points="134.3,2216.0 300.0,2214.3" stroke="#2FB600"/>
<polyline points="134.3,2207.7 555.0,2183.0" stroke="#00BA38"/>
<polyline points="134.3,2217.7 400.0,2195.3" stroke="#00BF7D"/>
<polyline points="134.3,2229.3 537.7,2228.3" stroke="#00BF7D"/>
<polyline points="134.3,2169.3 230.7,2177.3" stroke="#00BE9A"/>
<polyline points="134.3,2226.0 469.0,2223.7" stroke="#00BFC4"/>
<polyline points="134.3,2231.7 461.0,2232.0" stroke="#00BCD8"/>
<polyline points="134.3,2232.7 191.0,2232.7" stroke="#00B0F6"/>
<polyline points="134.3,2121.7 301.0,2081.0" stroke="#00A9FF"/>
<polyline points="134.3,2192.0 475.0,2187.0" stroke="#00A9FF"/>
<polyline points="134.3,2105.3 470.0,2049.0" stroke="#619CFF"/>
<polyline points="134.3,2139.3 175.7,2152.7 337.3,2140.0 402.7,2150.3 414.3,2132.0" stroke="#9590FF"/>
<polyline points="134.3,1907.7 304.3,1821.7" stroke="#B983FF"/>
<polyline points="134.3,2159.3 222.0,2159.7" stroke="#C77CFF"/>
<polyline points="134.3,2207.7 306.7,2211.7" stroke="#E76BF3"/>
<polyline points="134.3,2225.0 308.7,2216.7" stroke="#E76BF3"/>
<polyline points="134.3,2226.0 218.3,2211.0" stroke="#F564E3"/>
<polyline points="134.3,2203.0 306.7,2211.0" stroke="#FF62BC"/>
<polyline points="134.3,2096.7 260.3,2096.7" stroke="#FF61C3"/>
<polyline points="134.3,2205.0 270.0,2201.0" stroke="#FF61C3"/>
<polyline points="134.3,2154.3 243.3,2207.0" stroke="#FF699C"/>
<polyline points="134.3,2166.0 195.0,2171.0" stroke="#FD6F86"/>
</g>
<g stroke="#333" stroke-width="4.5" fill="none">
<line x1="133.3" y1="2253.0" x2="133.3" y2="2261.2"/>
<line x1="249" y1="2253.0" x2="249" y2="2261.2"/>
<line x1="363.7" y1="2253.0" x2="363.7" y2="2261.2"/>
<line x1="478.8" y1="2253.0" x2="478.8" y2="2261.2"/>
</g>
<path d="M112.7,1800.8V2253.0M112.7,2253.0H575.5" fill="none" stroke="#000" stroke-width="4.6" stroke-linecap="butt"/>
<g font-family="Liberation Sans, sans-serif" fill="#1a1a1a" stroke="#1a1a1a" stroke-width="0.5" stroke-linejoin="round">
<text transform="translate(125.27,2295.2) scale(0.96,1)" font-size="36.5">0</text>
<text transform="translate(231.11,2295.2) scale(0.96,1)" font-size="36.5">250</text>
<text transform="translate(349.38,2295.2) scale(0.96,1)" font-size="36.5">500</text>
<text transform="translate(467.91,2295.2) scale(0.96,1)" font-size="36.5">750</text>
<text transform="translate(64.23,1821.1) scale(0.91,1)" font-size="36.5">40</text>
<text transform="translate(64.23,2037.7) scale(0.91,1)" font-size="36.5">20</text>
<text transform="translate(203.6,2330.4)" font-size="36.23">Days since first scan</text>
<text transform="translate(26.6,2216) rotate(-90)" x="-2.91" font-size="36.38">Lesion vol. (x10<tspan font-size="20.01" dy="-11.64">3</tspan><tspan dy="11.64"> mm</tspan><tspan font-size="20.01" dy="-11.64">3</tspan><tspan dy="11.64">)</tspan></text>
<text transform="translate(8.67,1803) scale(0.88,1)" font-size="47.5" font-weight="bold" stroke="none" fill="#000">J</text>
</g>
</g>
</svg>
</body></html>
